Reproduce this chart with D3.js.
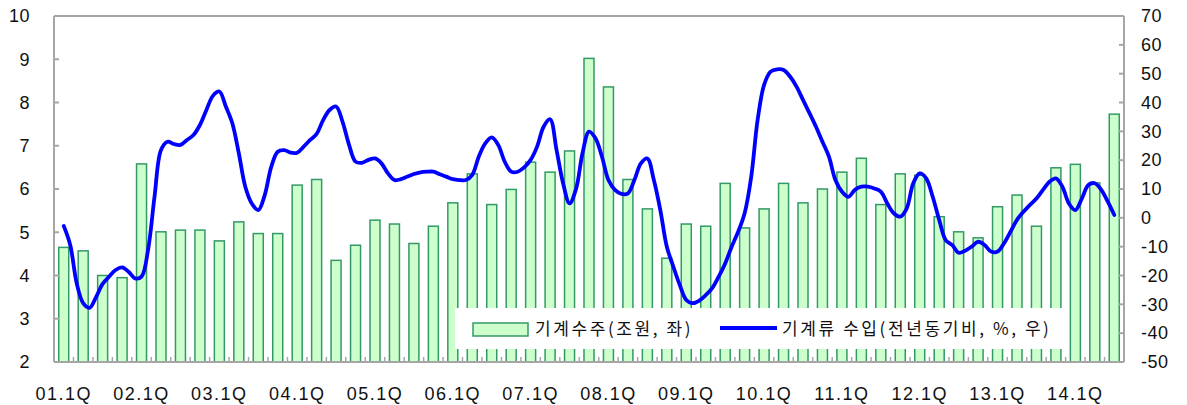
<!DOCTYPE html>
<html>
<head>
<meta charset="utf-8">
<script src="https://cdn.jsdelivr.net/npm/d3@7"></script>
<style>
  html, body { margin: 0; padding: 0; background: #fff; }
  svg { display: block; }
  .num { font-family: "Liberation Sans", Arial, Helvetica, sans-serif; font-size: 18px; fill: #111; }
  .kr { font-family: "Noto Sans CJK KR", sans-serif; font-size: 17px; fill: #111; }
</style>
</head>
<body>
<script>
// quarter labels (bars), 2001.1Q ~ 2014.3Q
const years = d3.range(2001, 2015);
const quarters = years.flatMap(y => [1, 2, 3, 4].map(q => `${String(y).slice(2)}.${q}Q`)).slice(0, 55);

// 기계수주 (조원, left axis)
const orders = [
  4.65, 4.57, 4.00, 3.95, 6.58, 5.01, 5.05, 5.05, 4.80, 5.24,
  4.97, 4.97, 6.09, 6.22, 4.35, 4.70, 5.28, 5.19, 4.74, 5.14,
  5.68, 6.35, 5.64, 5.99, 6.62, 6.39, 6.88, 9.02, 8.36, 6.22,
  5.54, 4.40, 5.19, 5.14, 6.13, 5.10, 5.54, 6.13, 5.68, 6.00,
  6.39, 6.71, 5.64, 6.35, 6.32, 5.36, 5.01, 4.87, 5.59, 5.86,
  5.14, 6.49, 6.57, 6.14, 7.73
];

// 기계류 수입 (전년동기비 %, right axis), monthly from 2001.02 to 2014.08
const imports = [
  -2.8, -9.4, -22.7, -29.6, -31.2, -27.4, -22.9, -20.4, -18.1, -17.2,
  -18.7, -21.0, -20.4, -11.2, 7.3, 23.5, 26.4, 25.6, 25.3, 27.0,
  28.7, 32.2, 37.4, 42.3, 43.8, 38.6, 32.8, 22.4, 10.8, 5.0,
  2.7, 7.9, 17.7, 22.9, 23.5, 22.6, 22.6, 24.7, 27.0, 29.1,
  33.9, 37.4, 38.6, 33.3, 25.3, 19.5, 19.1, 20.1, 20.6, 18.9,
  15.4, 13.1, 13.4, 14.3, 15.2, 15.8, 16.0, 16.0, 15.1, 14.3,
  13.4, 13.1, 13.1, 14.9, 21.2, 25.8, 27.9, 25.3, 19.5, 16.0,
  16.0, 17.5, 20.1, 24.7, 31.6, 34.2, 23.5, 12.0, 5.0, 10.0,
  22.4, 29.9, 27.6, 21.2, 13.1, 9.7, 8.3, 8.5, 13.1, 18.9,
  20.6, 13.1, 2.7, -10.0, -16.9, -23.3, -28.5, -29.6, -28.7, -26.8,
  -24.4, -20.4, -15.8, -10.0, -4.8, 1.6, 14.0, 33.9, 46.1, 50.7,
  51.5, 51.3, 49.0, 45.5, 40.9, 36.3, 31.6, 26.4, 21.2, 13.1,
  9.1, 7.3, 9.7, 10.8, 10.8, 10.2, 9.1, 5.0, 1.6, 0.4,
  3.3, 12.0, 15.4, 13.7, 7.3, -0.7, -7.7, -9.4, -12.1, -11.4,
  -10.0, -8.3, -9.4, -11.7, -11.7, -8.8, -4.8, -0.7, 2.1, 4.5,
  6.7, 9.7, 12.5, 13.7, 10.8, 5.0, 2.7, 6.7, 11.4, 12.0,
  9.7, 5.6, 1.0
];

const leftTicks = [2, 3, 4, 5, 6, 7, 8, 9, 10];
const rightTicks = [-50, -40, -30, -20, -10, 0, 10, 20, 30, 40, 50, 60, 70];
const legendLabels = ["기계수주(조원, 좌)", "기계류 수입(전년동기비, %, 우)"];

const width = 1187, height = 405;
const margin = { top: 16, right: 63, bottom: 43, left: 54 };

const svg = d3.select("body").append("svg")
  .attr("width", width)
  .attr("height", height);

// monthly band scale: 55 quarters * 3 months
const months = d3.range(quarters.length * 3);
const x = d3.scaleBand()
  .domain(months)
  .range([margin.left, width - margin.right])
  .padding(0);
const bw = x.bandwidth();
const xc = i => x(i) + bw / 2;

const yL = d3.scaleLinear().domain([2, 10]).range([height - margin.bottom, margin.top]);
const yR = d3.scaleLinear().domain([-50, 70]).range([height - margin.bottom, margin.top]);

const grey = "#a6a6a6";
const x0 = margin.left, x1 = width - margin.right;
const y0 = margin.top, y1 = height - margin.bottom;

// ** bars
const barW = 10;
svg.append("g")
  .selectAll("rect")
  .data(orders)
  .join("rect")
  .attr("x", (d, i) => xc(i * 3 + 1) - barW / 2)
  .attr("y", d => yL(d))
  .attr("width", barW)
  .attr("height", d => yL(2) - yL(d))
  .attr("fill", "#ccffcc")
  .attr("stroke", "#339966")
  .attr("stroke-width", 1.5);

// ** frame + ticks
const frame = svg.append("g");
frame.append("line").attr("x1", x0).attr("x2", x1).attr("y1", y0).attr("y2", y0);
frame.append("line").attr("x1", x0).attr("x2", x1).attr("y1", y1).attr("y2", y1);
frame.append("line").attr("x1", x0).attr("x2", x0).attr("y1", y0).attr("y2", y1);
frame.append("line").attr("x1", x1).attr("x2", x1).attr("y1", y0).attr("y2", y1);
frame.selectAll("line").attr("stroke", grey).attr("stroke-width", 2);

// left ticks (inward)
frame.selectAll(".lt").data(leftTicks).join("line")
  .attr("x1", x0).attr("x2", x0 + 5)
  .attr("y1", d => yL(d)).attr("y2", d => yL(d))
  .attr("stroke", grey).attr("stroke-width", 2);
// right ticks (inward)
frame.selectAll(".rt").data(rightTicks).join("line")
  .attr("x1", x1 - 5).attr("x2", x1)
  .attr("y1", d => yR(d)).attr("y2", d => yR(d))
  .attr("stroke", grey).attr("stroke-width", 2);
// bottom ticks at quarter boundaries (inward)
frame.selectAll(".bt").data(d3.range(1, quarters.length)).join("line")
  .attr("x1", q => x(q * 3)).attr("x2", q => x(q * 3))
  .attr("y1", y1 - 5).attr("y2", y1)
  .attr("stroke", grey).attr("stroke-width", 1.5);

// ** line
const line = d3.line()
  .x((d, i) => xc(i + 1))
  .y(d => yR(d))
  .curve(d3.curveCatmullRom.alpha(0.5));

svg.append("path")
  .datum(imports)
  .attr("fill", "none")
  .attr("stroke", "#0000ff")
  .attr("stroke-width", 3.8)
  .attr("stroke-linejoin", "round")
  .attr("stroke-linecap", "round")
  .attr("d", line);

// ** axis labels
svg.append("g").selectAll("text").data(leftTicks).join("text")
  .attr("class", "num")
  .attr("x", 30)
  .attr("y", d => yL(d))
  .attr("dy", "0.35em")
  .attr("text-anchor", "end")
  .attr("letter-spacing", "0.5px")
  .text(d => d);

svg.append("g").selectAll("text").data(rightTicks).join("text")
  .attr("class", "num")
  .attr("x", 1141)
  .attr("y", d => yR(d))
  .attr("dy", "0.35em")
  .attr("text-anchor", "start")
  .attr("letter-spacing", "0.5px")
  .text(d => d);

svg.append("g").selectAll("text")
  .data(quarters.filter(q => q.endsWith(".1Q")))
  .join("text")
  .attr("class", "num")
  .attr("x", q => xc(quarters.indexOf(q) * 3 + 1))
  .attr("y", 400)
  .attr("text-anchor", "middle")
  .attr("letter-spacing", "1.5px")
  .text(q => q);

// ** legend
const legend = svg.append("g");
legend.append("rect")
  .attr("x", 455).attr("y", 308)
  .attr("width", 607).attr("height", 41)
  .attr("fill", "#fff");
legend.append("rect")
  .attr("x", 473).attr("y", 323)
  .attr("width", 55).attr("height", 13)
  .attr("fill", "#ccffcc")
  .attr("stroke", "#339966")
  .attr("stroke-width", 1.5);
legend.append("text")
  .attr("class", "kr")
  .attr("x", 535).attr("y", 335)
  .attr("letter-spacing", "2.6px")
  .text(legendLabels[0]);
legend.append("line")
  .attr("x1", 720).attr("x2", 777)
  .attr("y1", 328).attr("y2", 328)
  .attr("stroke", "#0000ff")
  .attr("stroke-width", 3.8);
legend.append("text")
  .attr("class", "kr")
  .attr("x", 782).attr("y", 335)
  .attr("letter-spacing", "2.6px")
  .text(legendLabels[1]);
</script>
</body>
</html>
